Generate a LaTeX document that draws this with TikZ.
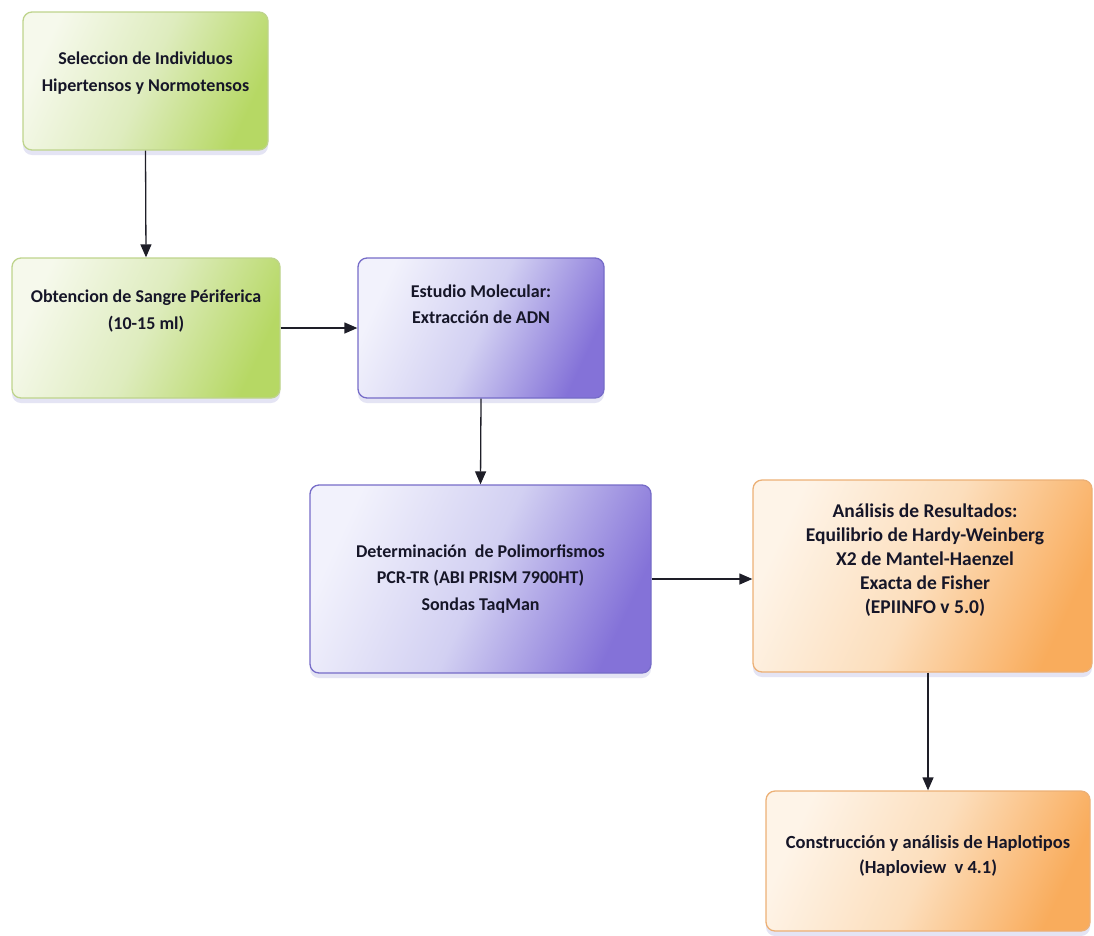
\documentclass[tikz,border=0pt]{standalone}
\usepackage{fontspec}
\setmainfont{Carlito}
\usetikzlibrary{arrows.meta,shadows,calc}

\definecolor{grS}{RGB}{182,216,100}
\definecolor{grM}{RGB}{222,236,190}
\definecolor{grL}{RGB}{246,249,236}
\definecolor{grB}{RGB}{190,212,140}
\definecolor{puS}{RGB}{132,114,216}
\definecolor{puM}{RGB}{210,208,242}
\definecolor{puL}{RGB}{242,242,252}
\definecolor{puB}{RGB}{118,108,200}
\definecolor{orS}{RGB}{249,172,92}
\definecolor{orM}{RGB}{252,222,188}
\definecolor{orL}{RGB}{254,244,232}
\definecolor{orB}{RGB}{236,176,118}
\definecolor{txt}{RGB}{22,22,40}
\definecolor{arr}{RGB}{30,30,40}

\begin{document}
\begin{tikzpicture}[x=1pt,y=-1pt,
  box/.style={rounded corners=9pt, line width=1.3pt,
    drop shadow={shadow xshift=0pt,shadow yshift=-5pt,opacity=0.15,fill=blue!40!gray}},
  greenbox/.style={box, draw=grB, top color=grL, bottom color=grS, middle color=grM, shading angle=65},
  purplebox/.style={box, draw=puB, top color=puL, bottom color=puS, middle color=puM, shading angle=65},
  orangebox/.style={box, draw=orB, top color=orL, bottom color=orS, middle color=orM, shading angle=65},
  lbl/.style={font=\bfseries\fontsize{18}{26.5}\selectfont, text=txt, align=center, inner sep=0pt},
  reslbl/.style={lbl, font=\bfseries\fontsize{19.5}{24}\selectfont},
  haplbl/.style={lbl, font=\bfseries\fontsize{18.5}{25}\selectfont},
  flow/.style={draw=arr, line width=1.3pt, -{Triangle[length=13pt,width=11pt]}}
]
\useasboundingbox (0,0) rectangle (1094,935);

% boxes
\node[greenbox, minimum width=245pt, minimum height=138pt] (b1) at (145.5,81) {};
\node[greenbox, minimum width=268pt, minimum height=140pt] (b2) at (146,328) {};
\node[purplebox, minimum width=246pt, minimum height=140pt] (b3) at (481,328) {};
\node[purplebox, minimum width=341pt, minimum height=188pt] (b4) at (480.5,579) {};
\node[orangebox, minimum width=339pt, minimum height=192pt] (b5) at (922.5,576) {};
\node[orangebox, minimum width=324pt, minimum height=140pt] (b6) at (928,861) {};

% labels
\node[lbl] (t1) at (145.5,73) {Seleccion de Individuos\\Hipertensos y Normotensos};
\node[lbl] (t2) at (146,311) {Obtencion de Sangre Périferica\\(10-15 ml)};
\node[lbl] (t3) at (481,304) {Estudio Molecular:\\Extracción de ADN};
\node[lbl] (t4) at (480.5,579) {Determinación\ \ de Polimorfismos\\PCR-TR (ABI PRISM 7900HT)\\Sondas TaqMan};
\node[reslbl] (t5) at (925,560) {Análisis de Resultados:\\Equilibrio de Hardy-Weinberg\\X2 de Mantel-Haenzel\\Exacta de Fisher\\(EPIINFO v 5.0)};
\node[haplbl] (t6) at (928,856) {Construcción y análisis de Haplotipos\\(Haploview\ \ v 4.1)};

% connectors
\draw[flow] (b1.south) -- (b2.north);
\draw[flow] (b2.east) -- (b3.west);
\draw[flow] (b3.south) -- (b4.north);
\draw[flow] (b4.east) -- (b4.east -| b5.west);
\draw[flow] (b5.south -| b6.north) -- (b6.north);
\end{tikzpicture}
\end{document}
